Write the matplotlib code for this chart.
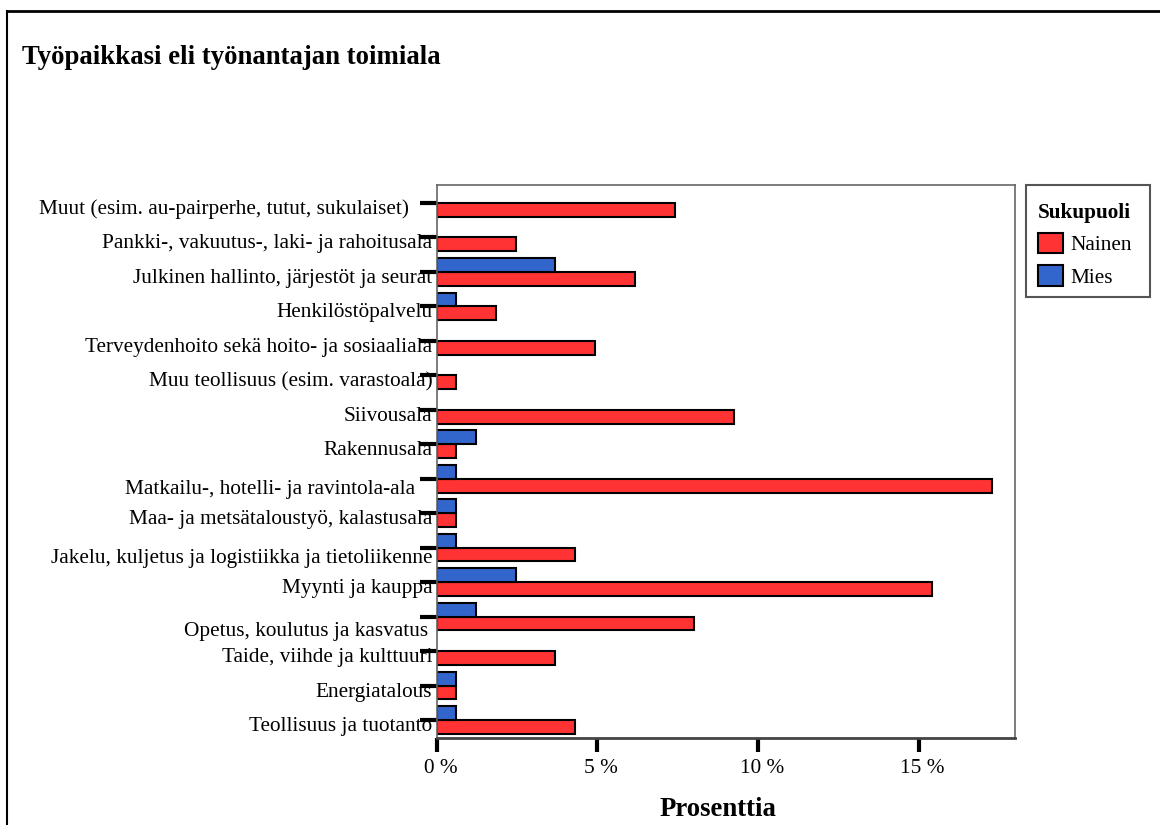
import matplotlib.pyplot as plt
import matplotlib.transforms as mtransforms
from matplotlib.patches import Patch, Rectangle
from matplotlib.lines import Line2D
import numpy as np

plt.rcParams['font.family'] = ['Liberation Serif', 'DejaVu Serif']

# categories top -> bottom
categories = [
    "Muut (esim. au-pairperhe, tutut, sukulaiset)",
    "Pankki-, vakuutus-, laki- ja rahoitusala",
    "Julkinen hallinto, järjestöt ja seurat",
    "Henkilöstöpalvelu",
    "Terveydenhoito sekä hoito- ja sosiaaliala",
    "Muu teollisuus (esim. varastoala)",
    "Siivousala",
    "Rakennusala",
    "Matkailu-, hotelli- ja ravintola-ala",
    "Maa- ja metsätaloustyö, kalastusala",
    "Jakelu, kuljetus ja logistiikka ja tietoliikenne",
    "Myynti ja kauppa",
    "Opetus, koulutus ja kasvatus",
    "Taide, viihde ja kulttuuri",
    "Energiatalous",
    "Teollisuus ja tuotanto",
]
nainen = [7.41, 2.47, 6.17, 1.85, 4.94, 0.62, 9.26, 0.62, 17.28, 0.62, 4.32, 15.43, 8.02, 3.70, 0.62, 4.32]
mies = [0, 0, 3.70, 0.62, 0, 0, 0, 1.23, 0.62, 0.62, 0.62, 2.47, 1.23, 0, 0.62, 0.62]
xticks = [0, 5, 10, 15]
xticklabels = ["0 %", "5 %", "10 %", "15 %"]

red = "#ff3333"
blue = "#3366cc"
fs = 15.3
W, H = 1160, 825


def fx(px):
    return px / W


def fy(py):
    return 1 - py / H


fig = plt.figure(figsize=(11.6, 8.25), dpi=100)
ax = fig.add_axes([fx(436.5), fy(738), (1015 - 436.5) / W, (738 - 185) / H])

y = np.arange(len(categories))
h = 0.4
n = np.array(nainen)
m = np.array(mies)
ax.barh(y + h / 2, n, height=h, color=red, edgecolor="black", linewidth=1.5)
mask = m > 0  # SPSS leaves empty slots for zero
ax.barh(y[mask] - h / 2, m[mask], height=h, color=blue, edgecolor="black", linewidth=1.5)

ax.set_xlim(0, 18)
ax.set_ylim(len(categories) - 0.48, -0.52)

ax.set_yticks(y)
ax.set_yticklabels(categories, fontsize=fs)
ax.tick_params(axis="y", length=12, width=3, pad=-9, color="black")
# SPSS puts some labels a bit off their tick (pixels: dx, dy down)
tweaks = {0: (-23, 4), 8: (-17, 8), 10: (0, 8), 12: (-4, 12)}
for i, lab in enumerate(ax.get_yticklabels()):
    dx, dy = tweaks.get(i, (0, 4))
    off = mtransforms.ScaledTranslation(dx / 100, -dy / 100, fig.dpi_scale_trans)
    lab.set_transform(lab.get_transform() + off)

ax.set_xticks(xticks)
ax.set_xticklabels(xticklabels, fontsize=fs)
ax.tick_params(axis="x", length=10, width=3, pad=5, color="black")
for lab in ax.get_xticklabels():
    lab.set_transform(lab.get_transform() + mtransforms.ScaledTranslation(4 / 100, 0, fig.dpi_scale_trans))

for s in ["left", "top", "right"]:
    ax.spines[s].set_color("#666666")
    ax.spines[s].set_linewidth(1.2)
ax.spines["bottom"].set_color("#444444")
ax.spines["bottom"].set_linewidth(2)

ax.set_xlabel("Prosenttia", fontsize=19.3, fontweight="bold", va="center")
ax.xaxis.set_label_coords((718 - 436.5) / (1015 - 436.5), (738 - 810) / (738 - 185))

fig.text(fx(21.5), fy(64), "Työpaikkasi eli työnantajan toimiala",
         fontsize=19.3, fontweight="bold", va="baseline", ha="left")

# legend: entries without frame, box drawn separately
handles = [Patch(facecolor=red, edgecolor="black", linewidth=1.5, label="Nainen"),
           Patch(facecolor=blue, edgecolor="black", linewidth=1.5, label="Mies")]
leg = fig.legend(handles=handles, title="Sukupuoli", loc="upper left",
                 bbox_to_anchor=(fx(1038), fy(203)), fontsize=fs,
                 title_fontproperties={"weight": "bold", "size": fs},
                 alignment="left", frameon=False,
                 handlelength=1.18, handleheight=1.1,
                 handletextpad=0.35, borderpad=0, borderaxespad=0, labelspacing=0.47)
fig.add_artist(Rectangle((fx(1026), fy(297)), (1150 - 1026) / W, (297 - 185) / H,
                         transform=fig.transFigure, facecolor="none",
                         edgecolor="#555555", linewidth=1.5))

# outer page border (top and left only visible)
fig.add_artist(Line2D([fx(7), 1], [fy(11), fy(11)], transform=fig.transFigure,
                      color="black", linewidth=2))
fig.add_artist(Line2D([fx(7), fx(7)], [0, fy(11)], transform=fig.transFigure,
                      color="black", linewidth=1.5))

fig.savefig("out.png", dpi=100)
